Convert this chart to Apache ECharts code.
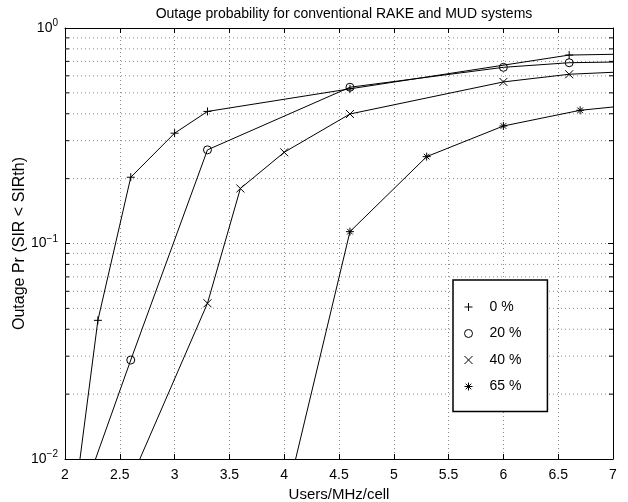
<!DOCTYPE html>
<html>
<head>
<meta charset="utf-8">
<script src="https://cdn.jsdelivr.net/npm/echarts@6/dist/echarts.min.js"></script>
<style>html,body{margin:0;padding:0;background:#fff;}#c{width:628px;height:502px;}</style>
</head>
<body>
<div id="c"></div>
<script>
var titleText = 'Outage probability for conventional RAKE and MUD systems';
var xName = 'Users/MHz/cell';
var yName = 'Outage Pr (SIR < SIRth)';
var seriesNames = ['0 %', '20 %', '40 %', '65 %'];

var xPlus = [2.0, 2.3, 2.6, 3.0, 3.3, 4.6, 6.6, 7.0];
var yPlus = [0.0029, 0.044, 0.203, 0.325, 0.41, 0.522, 0.749, 0.755];

var xCircle = [2.0, 2.6, 3.3, 4.6, 6.0, 6.6, 7.0];
var yCircle = [0.004, 0.0288, 0.272, 0.531, 0.657, 0.690, 0.695];

var xCross = [2.6, 3.3, 3.6, 4.0, 4.6, 6.0, 6.6, 7.0];
var yCross = [0.008, 0.0528, 0.180, 0.265, 0.399, 0.562, 0.610, 0.623];

var xStar = [4.0, 4.6, 5.3, 6.0, 6.7, 7.0];
var yStar = [0.006, 0.1135, 0.253, 0.351, 0.415, 0.430];

var minorY = [0.02,0.03,0.04,0.05,0.06,0.07,0.08,0.09,0.2,0.3,0.4,0.5,0.6,0.7,0.8,0.9];

var X_MIN = 2, X_MAX = 7, Y_MIN = 0.01, Y_MAX = 1;

function zip(xs, ys) { return xs.map(function (x, i) { return [x, ys[i]]; }); }

var SYM_PLUS = 'path://M0,5L10,5M5,0L5,10';
var SYM_CROSS = 'path://M0,0L10,10M0,10L10,0';
var SYM_STAR = 'path://M0,5L10,5M5,0L5,10M1.5,1.5L8.5,8.5M1.5,8.5L8.5,1.5';
var SYM_CIRCLE = 'circle';

var symbols = [SYM_PLUS, SYM_CIRCLE, SYM_CROSS, SYM_STAR];
var sizes = [8, 8, 8, 8];
var datas = [zip(xPlus, yPlus), zip(xCircle, yCircle), zip(xCross, yCross), zip(xStar, yStar)];

var FONT = 'Liberation Sans';
var gridDot = { color: '#8a8a8a', width: 1, type: [1, 3] };

function makeLine(i) {
  return {
    name: seriesNames[i],
    type: 'line',
    data: datas[i],
    symbol: symbols[i],
    symbolSize: function (v) { return v[0] >= X_MAX ? 0 : sizes[i]; },
    showSymbol: true,
    clip: true,
    animation: false,
    lineStyle: { color: '#000', width: 1 },
    itemStyle: { color: 'none', borderColor: '#000', borderWidth: 1 },
    emphasis: { disabled: true },
    z: 5
  };
}

var chart = echarts.init(document.getElementById('c'), null, { renderer: 'canvas' });

var option = {
  backgroundColor: '#fff',
  animation: false,
  textStyle: { fontFamily: FONT },
  title: {
    text: titleText,
    left: 339, top: 2, textAlign: 'center',
    textStyle: { fontSize: 14, fontWeight: 'normal', color: '#000', fontFamily: FONT }
  },
  grid: { left: 65, right: 15, top: 28, bottom: 43, containLabel: false, outerBoundsMode: 'none' },
  legend: {
    data: seriesNames.map(function (n, i) { return { name: n, icon: symbols[i] }; }),
    orient: 'vertical',
    left: 453, top: 280,
    padding: [20, 26, 18, 9],
    itemGap: 12.5,
    itemWidth: 8, itemHeight: 8,
    backgroundColor: '#fff',
    borderColor: '#000', borderWidth: 1.5,
    textStyle: { fontSize: 14, color: '#000', fontFamily: FONT, padding: [0, 0, 0, 12] },
    itemStyle: { color: 'none', borderColor: '#000', borderWidth: 1 },
    lineStyle: { width: 0 },
    selectedMode: false
  },
  xAxis: [{
    type: 'value', min: X_MIN, max: X_MAX, interval: 0.5,
    name: xName, nameLocation: 'middle', nameGap: 28, nameMoveOverlap: false,
    nameTextStyle: { fontSize: 15, color: '#000', fontFamily: FONT },
    axisLine: { onZero: false, lineStyle: { color: '#000', width: 1 } },
    axisTick: { inside: true, length: 5, lineStyle: { color: '#000' } },
    axisLabel: { fontSize: 14, color: '#000', margin: 9, fontFamily: FONT },
    splitLine: { show: true, lineStyle: gridDot }
  }, {
    type: 'value', min: X_MIN, max: X_MAX, interval: 0.5, position: 'top',
    axisLine: { onZero: false, lineStyle: { color: '#000', width: 1 } },
    axisTick: { inside: true, length: 5, lineStyle: { color: '#000' } },
    axisLabel: { show: false }, splitLine: { show: false }
  }],
  yAxis: [{
    type: 'log', logBase: 10, min: Y_MIN, max: Y_MAX, interval: 1,
    name: yName, nameLocation: 'middle', nameGap: 37, nameRotate: 90, nameMoveOverlap: false,
    nameTextStyle: { fontSize: 16, color: '#000', fontFamily: FONT },
    axisLine: { onZero: false, lineStyle: { color: '#000', width: 1 } },
    axisTick: { inside: true, length: 5, lineStyle: { color: '#000' } },
    axisLabel: {
      margin: 7, color: '#000',
      formatter: function (v) {
        var e = Math.round(Math.log10(v));
        return '{b|10}{s|' + (e < 0 ? '\u2212' + (-e) : e) + '}';
      },
      rich: {
        b: { fontSize: 14, color: '#000', fontFamily: FONT },
        s: { fontSize: 10, color: '#000', fontFamily: FONT, verticalAlign: 'bottom', padding: [0, 0, 9, 0] }
      }
    },
    splitLine: { show: true, lineStyle: gridDot }
  }, {
    type: 'log', logBase: 10, min: Y_MIN, max: Y_MAX, interval: 1, position: 'right',
    axisLine: { onZero: false, lineStyle: { color: '#000', width: 1 } },
    axisTick: { inside: true, length: 5, lineStyle: { color: '#000' } },
    axisLabel: { show: false }, splitLine: { show: false }
  }],
  series: [
    {
      type: 'custom', name: 'minor', silent: true, animation: false, z: 1,
      data: minorY.map(function (v) { return [X_MIN, v]; }),
      renderItem: function (params, api) {
        var v = api.value(1);
        var l = api.coord([X_MIN, v]);
        var r = api.coord([X_MAX, v]);
        return {
          type: 'group',
          children: [
            { type: 'line', shape: { x1: l[0], y1: l[1], x2: r[0], y2: r[1] }, style: { stroke: gridDot.color, lineWidth: 1, lineDash: [1, 3] } },
            { type: 'line', shape: { x1: l[0], y1: l[1], x2: l[0] + 4, y2: l[1] }, style: { stroke: '#000', lineWidth: 1 } },
            { type: 'line', shape: { x1: r[0] - 4, y1: r[1], x2: r[0], y2: r[1] }, style: { stroke: '#000', lineWidth: 1 } }
          ]
        };
      }
    },
    makeLine(0), makeLine(1), makeLine(2), makeLine(3)
  ]
};
chart.setOption(option);
</script>
</body>
</html>
